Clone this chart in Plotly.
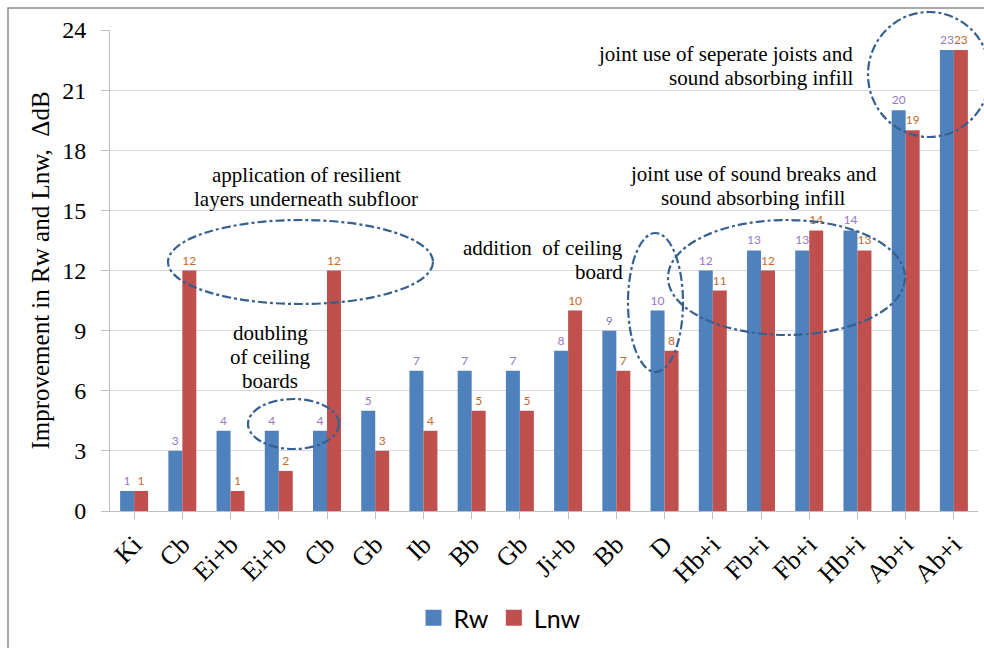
import plotly.graph_objects as go

categories = ["Ki", "Cb", "Ei+b", "Ei+b", "Cb", "Gb", "Ib", "Bb", "Gb", "Ji+b",
              "Bb", "D", "Hb+i", "Fb+i", "Fb+i", "Hb+i", "Ab+i", "Ab+i"]
rw = [1, 3, 4, 4, 4, 5, 7, 7, 7, 8, 9, 10, 12, 13, 13, 14, 20, 23]
lnw = [1, 12, 1, 2, 12, 3, 4, 5, 5, 10, 7, 8, 11, 12, 14, 13, 19, 23]
y_ticks = [0, 3, 6, 9, 12, 15, 18, 21, 24]

W, H = 984, 648
L, R, T, B = 110, 978, 30, 511

xs = list(range(len(categories)))

def xp(px):
    return (px - L) / (R - L)

def yp(py):
    return (B - py) / (B - T)

SERIF = "Liberation Serif, Times New Roman, serif"
SANS = "Lato, Open Sans, sans-serif"
BLUE = "#4F81BD"
RED = "#C0504D"

fig = go.Figure()
fig.add_trace(go.Bar(x=xs, y=rw, name="Rw", marker_color=BLUE,
                     marker_line_width=0, showlegend=False,
                     text=[str(v) for v in rw], textposition="outside",
                     textfont=dict(family=SANS, size=12, color="#9479C4"),
                     cliponaxis=False))
fig.add_trace(go.Bar(x=xs, y=lnw, name="Lnw", marker_color=RED,
                     marker_line_width=0, showlegend=False,
                     text=[str(v) for v in lnw], textposition="outside",
                     textfont=dict(family=SANS, size=12, color="#C26B2A"),
                     cliponaxis=False))
for nm, col in (("Rw", BLUE), ("Lnw", RED)):
    fig.add_trace(go.Scatter(x=[None], y=[None], mode="markers", name=nm,
                             marker=dict(symbol="square", size=18, color=col,
                                         line=dict(width=0)),
                             showlegend=True))

shapes = []
line_style = dict(color="#35608F", width=2.2, dash="dashdot")
ellipses = [
    (168, 220, 433, 304),
    (248, 399, 339, 449),
    (628, 233, 683, 372),
    (668, 220, 905, 335),
    (868, 12, 990, 137),
]
for (x0, y0, x1, y1) in ellipses:
    shapes.append(dict(type="circle", xref="paper", yref="paper",
                       x0=xp(x0), x1=xp(x1), y0=yp(y1), y1=yp(y0),
                       line=line_style, layer="above"))
shapes.append(dict(type="rect", xref="paper", yref="paper",
                   x0=xp(8), x1=xp(1010), y0=yp(700), y1=yp(8),
                   line=dict(color="#8C8C8C", width=1.5), layer="below"))

annots = [
    (306, 175, ["application of resilient", "layers underneath subfloor"], "center"),
    (270, 333, ["doubling", "of ceiling", "boards"], "center"),
    (625, 248, ["addition  of ceiling", "board"], "right"),
    (753, 174, ["joint use of sound breaks and", "sound absorbing infill"], "center"),
    (855, 54, ["joint use of seperate joists and", "sound absorbing infill"], "right"),
]
LINE = 24
annotations = []
for (x, y, lines, al) in annots:
    for i, ln in enumerate(lines):
        annotations.append(dict(xref="paper", yref="paper", x=xp(x), y=yp(y + i * LINE),
                                text=ln, showarrow=False,
                                xanchor="center" if al == "center" else "right",
                                yanchor="middle",
                                font=dict(family=SERIF, size=21, color="#000000")))

fig.update_layout(
    width=W, height=H,
    margin=dict(l=L, r=W - R, t=T, b=H - B, autoexpand=False),
    paper_bgcolor="white", plot_bgcolor="white",
    barmode="group", bargap=0.42, bargroupgap=0,
    showlegend=True,
    legend=dict(orientation="h", x=xp(500), y=yp(618), xanchor="center",
                yanchor="middle", font=dict(family=SANS, size=25, color="#000"),
                itemsizing="trace", itemwidth=30, tracegroupgap=0),
    shapes=shapes,
    annotations=annotations,
    xaxis=dict(tickmode="array", tickvals=xs, ticktext=categories,
               tickangle=-45, tickfont=dict(family=SERIF, size=26, color="#000"),
               showline=True, linecolor="#BFBFBF", linewidth=1,
               ticks="outside", tickson="boundaries", ticklen=7,
               tickcolor="#BFBFBF", showgrid=False, automargin=False,
               range=[-0.5, len(categories) - 0.5]),
    yaxis=dict(range=[0, 24], tickvals=y_ticks,
               tickfont=dict(family=SERIF, size=24, color="#000"),
               showline=True, linecolor="#BFBFBF", linewidth=1,
               ticks="outside", ticklen=8, tickcolor="#BFBFBF",
               gridcolor="#D9D9D9", gridwidth=1, zeroline=False,
               automargin=False,
               title=dict(text="Improvement in Rw and Lnw,  ΔdB",
                          font=dict(family=SERIF, size=25, color="#000"),
                          standoff=5),
               ticklabelstandoff=10),
)

fig.write_html("out.html", config={"displayModeBar": False},
               post_script="document.body.style.margin='0';")
